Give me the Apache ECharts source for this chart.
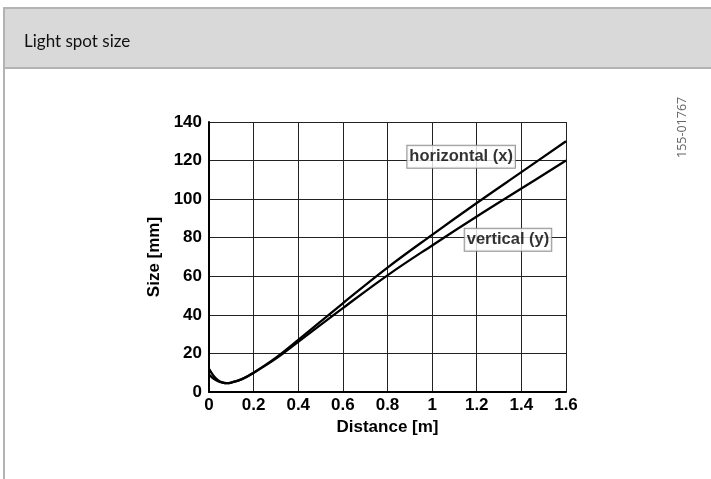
<!DOCTYPE html>
<html>
<head>
<meta charset="utf-8">
<script src="https://cdn.jsdelivr.net/npm/echarts@6/dist/echarts.min.js"></script>
<style>
html,body{margin:0;padding:0;background:#fff;}
#chart{width:711px;height:479px;}
</style>
</head>
<body>
<div id="chart"></div>
<script>
// Data
var distance = [0, 0.02, 0.04, 0.06, 0.08, 0.1, 0.15, 0.2, 0.3, 0.4, 0.6, 0.8, 1.0, 1.2, 1.4, 1.6];
var horizontalX = [12, 8.5, 6.2, 5, 4.6, 4.9, 6.8, 10, 17.8, 27, 46, 64.5, 81.5, 98, 114, 130];
var verticalY = [9, 7, 5.6, 4.9, 4.6, 4.9, 6.8, 10, 17.3, 26, 43.5, 60.5, 76, 91, 105.5, 120];
var seriesNames = ['horizontal (x)', 'vertical (y)'];
var labelPos = [[1.13, 122], [1.34, 79]];
var title = 'Light spot size';
var docId = '155-01767';

function pairs(xs, ys) { return xs.map(function (x, i) { return [x, ys[i]]; }); }

var chart = echarts.init(document.getElementById('chart'), null, {renderer: 'canvas'});
var FONT = 'Liberation Sans, Arial, sans-serif';
var nameStyle = {fontFamily: FONT, fontWeight: 'bold', fontSize: 17, color: '#000'};

chart.setOption({
  animation: false,
  backgroundColor: '#fff',
  graphic: [
    {type: 'rect', shape: {x: 4, y: 8, width: 720, height: 60}, style: {fill: '#d9d9d9', stroke: '#b3b3b3', lineWidth: 2}, z: 0},
    {type: 'line', shape: {x1: 4, y1: 68, x2: 4, y2: 490}, style: {stroke: '#b3b3b3', lineWidth: 2}},
    {type: 'text', left: 24, top: 33, style: {text: title, fontFamily: 'Lato, Open Sans, sans-serif', fontSize: 17, fill: '#111'}},
    {type: 'text', x: 676, y: 158, rotation: Math.PI / 2, style: {text: docId, fontFamily: 'Open Sans, Noto Sans, sans-serif', fontSize: 12.5, fill: '#666'}}
  ],
  grid: {left: 209, right: 145, top: 122, bottom: 87, show: false},
  xAxis: {
    type: 'value', min: 0, max: 1.6, interval: 0.2,
    name: 'Distance [m]', nameLocation: 'middle', nameGap: 21,
    nameTextStyle: nameStyle,
    axisLine: {show: true, lineStyle: {color: '#000', width: 2}},
    axisTick: {show: false},
    axisLabel: {margin: 5, fontSize: 17, fontFamily: FONT, fontWeight: 'bold', color: '#000',
      formatter: function (v) { return String(+v.toFixed(1)); }},
    splitLine: {show: true, lineStyle: {color: '#222', width: 1}}
  },
  yAxis: {
    type: 'value', min: 0, max: 140, interval: 20,
    name: 'Size [mm]', nameLocation: 'middle', nameGap: 42,
    nameTextStyle: nameStyle,
    axisLine: {show: true, lineStyle: {color: '#000', width: 2}},
    axisTick: {show: false},
    axisLabel: {margin: 7, fontSize: 17, fontFamily: FONT, fontWeight: 'bold', color: '#000'},
    splitLine: {show: true, lineStyle: {color: '#222', width: 1}}
  },
  series: [
    {name: seriesNames[0], type: 'line', smooth: 0.4, symbol: 'none', data: pairs(distance, horizontalX), lineStyle: {color: '#000', width: 2.3}, z: 3},
    {name: seriesNames[1], type: 'line', smooth: 0.4, symbol: 'none', data: pairs(distance, verticalY), lineStyle: {color: '#000', width: 2.3}, z: 3},
    {
      type: 'scatter', symbolSize: 0, z: 5,
      data: labelPos.map(function (p, i) { return {value: p, name: seriesNames[i]}; }),
      label: {
        show: true, position: 'inside', formatter: '{b}',
        fontFamily: FONT, fontWeight: 'bold', fontSize: 16.5, color: '#000',
        backgroundColor: '#fff', borderColor: '#777', borderWidth: 1, padding: [3, 2, 2, 2]
      }
    }
  ]
});
</script>
</body>
</html>
